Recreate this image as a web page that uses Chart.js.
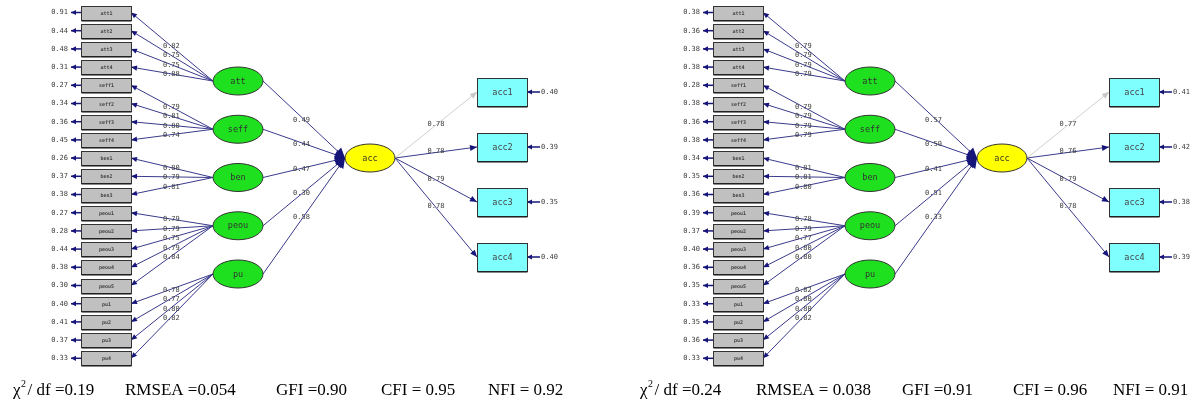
<!DOCTYPE html>
<html>
<head>
<meta charset="utf-8">
<script src="https://cdn.jsdelivr.net/npm/chart.js@4.4.1/dist/chart.umd.min.js"></script>
<style>
html,body{margin:0;padding:0;background:#fff;overflow:hidden}
canvas{display:block}
</style>
</head>
<body>
<canvas id="sem" width="1204" height="406"></canvas>
<script>
// measurement model: items and the factor each group belongs to
var indicators = ['att1','att2','att3','att4','seff1','seff2','seff3','seff4','ben1','ben2','ben3',
                  'peou1','peou2','peou3','peou4','peou5','pu1','pu2','pu3','pu4'];
var latents = ['att','seff','ben','peou','pu'];
var groupSize = [4,4,3,5,4];
var outcomeLatent = 'acc';
var outcomes = ['acc1','acc2','acc3','acc4'];

// model 1 (left diagram)
var loadings1 = [0.82,0.75,0.75,0.88, 0.79,0.81,0.80,0.74, 0.80,0.79,0.81,
                 0.79,0.79,0.75,0.79,0.84, 0.78,0.77,0.80,0.82];
var errors1 = [0.91,0.44,0.48,0.31, 0.27,0.34,0.36,0.45, 0.26,0.37,0.38,
               0.27,0.28,0.44,0.38,0.30, 0.40,0.41,0.37,0.33];
var paths1 = [0.49,0.44,0.47,0.30,0.58];
var accLoadings1 = [0.78,0.78,0.79,0.78];
var accErrors1 = [0.40,0.39,0.35,0.40];
var fit1 = ['/ df =0.19','RMSEA =0.054','GFI =0.90','CFI = 0.95','NFI = 0.92'];

// model 2 (right diagram)
var loadings2 = [0.79,0.79,0.79,0.79, 0.79,0.79,0.79,0.79, 0.81,0.81,0.80,
                 0.78,0.79,0.77,0.80,0.80, 0.82,0.80,0.80,0.82];
var errors2 = [0.38,0.36,0.38,0.38, 0.28,0.38,0.36,0.38, 0.34,0.35,0.36,
               0.39,0.37,0.40,0.36,0.35, 0.33,0.35,0.36,0.33];
var paths2 = [0.57,0.59,0.41,0.51,0.33];
var accLoadings2 = [0.77,0.76,0.79,0.78];
var accErrors2 = [0.41,0.42,0.38,0.39];
var fit2 = ['/ df =0.24','RMSEA = 0.038','GFI =0.91','CFI = 0.96','NFI = 0.91'];

var models = [
  {load: loadings1, err: errors1, paths: paths1, accLoad: accLoadings1, accErr: accErrors1, fit: fit1},
  {load: loadings2, err: errors2, paths: paths2, accLoad: accLoadings2, accErr: accErrors2, fit: fit2}
];

// diagram layout (in scale units, 1 unit = 1px)
var panelDx = [0, 632];
var boxX = 81, boxW = 50, boxH = 14, itemY0 = 12.5, itemStep = 18.2;
var latX = 238, latY0 = 81, latStep = 48.25, latRx = 25, latRy = 14;
var accX = 370, accY = 158;
var outX = 477, outW = 50, outH = 28, outY = [92,147,202,257];
var fitX = [[13,125,276,381,488],[640,756,902,1013,1113]];
var fitY = 395;

var NAVY = '#15157a';
var LINE = '#3a3a8c';

var datasets = [];
var arrows = [];   // arrowheads: tip at (x2,y2)
var nodes = [];    // boxes and ellipses
var labels = [];   // numbers on the diagram

function seg(x1,y1,x2,y2,color,width){
  datasets.push({data:[{x:x1,y:y1},{x:x2,y:y2}], showLine:true, borderColor:color,
    borderWidth:width, pointRadius:0, fill:false, tension:0});
}

models.forEach(function(m, p){
  var dx = panelDx[p];
  var item = 0;
  latents.forEach(function(name, j){
    var ly = latY0 + j*latStep;
    for (var k = 0; k < groupSize[j]; k++, item++){
      var iy = itemY0 + item*itemStep;
      var x1 = dx + latX - latRx, x2 = dx + boxX + boxW;
      seg(x1, ly, x2, iy, LINE, 1);
      arrows.push({x1:x1, y1:ly, x2:x2, y2:iy, len:6, half:2.6});
      var t = 0.52;
      labels.push({x: x1 + (x2-x1)*t + 1, y: ly + (iy-ly)*t + 0.5, text: m.load[item].toFixed(2), align:'center'});
      // error term
      seg(dx + boxX, iy, dx + boxX - 10, iy, NAVY, 1.5);
      arrows.push({x1:dx+boxX, y1:iy, x2:dx+boxX-10, y2:iy, len:5, half:2.6});
      labels.push({x: dx + boxX - 13, y: iy, text: m.err[item].toFixed(2), align:'right'});
      nodes.push({kind:'box', x: dx+boxX, y: iy-boxH/2, w: boxW, h: boxH, fill:'#c0c0c0', text: indicators[item], font:'bold 5px "DejaVu Sans Mono"'});
    }
    // structural path to acc
    var sx = dx + latX + latRx, ex = dx + accX - latRx;
    seg(sx, ly, ex, accY, LINE, 1);
    arrows.push({x1:sx, y1:ly, x2:ex, y2:accY, len:10, half:5});
    labels.push({x: sx + (ex-sx)*0.47, y: ly + (accY-ly)*0.5 + 1, text: m.paths[j].toFixed(2), align:'center'});
    nodes.push({kind:'ell', x: dx+latX, y: ly, rx: latRx, ry: latRy, fill:'#1ee01e', text: name});
  });
  // acc -> its indicators
  outcomes.forEach(function(name, k){
    var oy = outY[k];
    var sx = dx + accX + latRx, ex = dx + outX;
    var col = k === 0 ? '#cfcfcf' : LINE;
    seg(sx, accY, ex, oy, col, 1);
    arrows.push({x1:sx, y1:accY, x2:ex, y2:oy, len:7, half:3, color: k === 0 ? '#c8c8c8' : NAVY});
    labels.push({x: sx + (ex-sx)*0.5, y: accY + (oy-accY)*0.5 - 1, text: m.accLoad[k].toFixed(2), align:'center'});
    seg(dx+outX+outW+13, oy, dx+outX+outW, oy, NAVY, 1.5);
    arrows.push({x1:dx+outX+outW+13, y1:oy, x2:dx+outX+outW, y2:oy, len:5, half:2.6});
    labels.push({x: dx+outX+outW+14, y: oy, text: m.accErr[k].toFixed(2), align:'left'});
    nodes.push({kind:'box', x: dx+outX, y: oy-outH/2, w: outW, h: outH, fill:'#80ffff', text: name, font:'8.5px "DejaVu Sans Mono"'});
  });
  nodes.push({kind:'ell', x: dx+accX, y: accY, rx: latRx, ry: latRy, fill:'#ffff00', text: outcomeLatent});
});

var diagram = {
  id: 'diagram',
  afterDatasetsDraw: function(chart){
    var ctx = chart.ctx, X = chart.scales.x, Y = chart.scales.y;
    function px(v){ return X.getPixelForValue(v); }
    function py(v){ return Y.getPixelForValue(v); }
    ctx.save();
    arrows.forEach(function(a){
      var x1 = px(a.x1), y1 = py(a.y1), x2 = px(a.x2), y2 = py(a.y2);
      var ang = Math.atan2(y2-y1, x2-x1);
      ctx.fillStyle = a.color || NAVY;
      ctx.beginPath();
      ctx.moveTo(x2, y2);
      ctx.lineTo(x2 - a.len*Math.cos(ang) + a.half*Math.sin(ang), y2 - a.len*Math.sin(ang) - a.half*Math.cos(ang));
      ctx.lineTo(x2 - a.len*Math.cos(ang) - a.half*Math.sin(ang), y2 - a.len*Math.sin(ang) + a.half*Math.cos(ang));
      ctx.closePath();
      ctx.fill();
    });
    nodes.forEach(function(n){
      ctx.fillStyle = n.fill;
      ctx.strokeStyle = '#333';
      ctx.lineWidth = 1;
      if (n.kind === 'box'){
        var x = Math.round(px(n.x)) + 0.5, y = Math.round(py(n.y)) + 0.5;
        var w = Math.round(px(n.x + n.w) - px(n.x)), h = Math.round(py(n.y + n.h) - py(n.y));
        ctx.fillRect(x, y, w, h);
        ctx.strokeRect(x, y, w, h);
        ctx.strokeStyle = '#111';
        ctx.beginPath(); ctx.moveTo(x, y+h+0.5); ctx.lineTo(x+w, y+h+0.5); ctx.stroke();
        ctx.fillStyle = '#444';
        ctx.font = n.font;
        ctx.textAlign = 'center'; ctx.textBaseline = 'middle';
        ctx.fillText(n.text, x + w/2, y + h/2 + 0.5);
      } else {
        var cx = px(n.x), cy = py(n.y);
        ctx.beginPath();
        ctx.ellipse(cx, cy, px(n.x + n.rx) - cx, py(n.y + n.ry) - cy, 0, 0, Math.PI*2);
        ctx.fill(); ctx.stroke();
        ctx.fillStyle = '#333';
        ctx.font = '8.5px "DejaVu Sans Mono"';
        ctx.textAlign = 'center'; ctx.textBaseline = 'middle';
        ctx.fillText(n.text, cx, cy + 0.5);
      }
    });
    ctx.font = '7px "DejaVu Sans Mono"';
    ctx.fillStyle = '#3a3a3a';
    ctx.textBaseline = 'middle';
    labels.forEach(function(l){
      ctx.textAlign = l.align;
      ctx.fillText(l.text, px(l.x), py(l.y));
    });
    // fit indices under each diagram
    ctx.fillStyle = '#000';
    ctx.textBaseline = 'alphabetic';
    ctx.textAlign = 'left';
    models.forEach(function(m, p){
      m.fit.forEach(function(txt, i){
        var x = px(fitX[p][i]), y = py(fitY);
        if (i === 0){
          ctx.font = '17px "Liberation Serif"';
          ctx.fillText('\u03c7', x, y);
          var wx = ctx.measureText('\u03c7').width;
          ctx.font = '10px "Liberation Serif"';
          ctx.fillText('2', x + wx + 0.5, y - 8);
          ctx.font = '17px "Liberation Serif"';
          ctx.fillText(txt, x + wx + 7, y);
        } else {
          ctx.font = '17px "Liberation Serif"';
          ctx.fillText(txt, x, y);
        }
      });
    });
    ctx.restore();
  }
};

new Chart(document.getElementById('sem'), {
  type: 'scatter',
  data: {datasets: datasets},
  options: {
    responsive: false,
    animation: false,
    layout: {padding: 0},
    plugins: {legend: {display: false}, tooltip: {enabled: false}},
    scales: {
      x: {type: 'linear', min: 0, max: 1204, display: false},
      y: {type: 'linear', min: 0, max: 406, reverse: true, display: false}
    }
  },
  plugins: [diagram]
});
</script>
</body>
</html>
